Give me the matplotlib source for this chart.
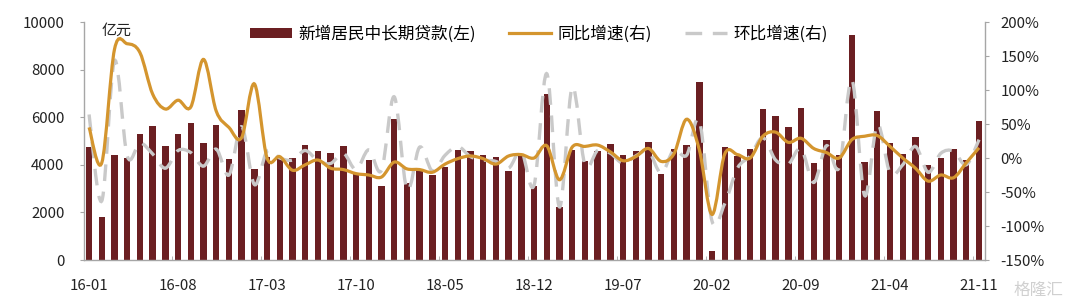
import matplotlib
matplotlib.use("Agg")
import matplotlib.pyplot as plt
import numpy as np
from matplotlib.path import Path
from matplotlib.patches import PathPatch, Patch
from matplotlib.lines import Line2D
from matplotlib.ticker import FuncFormatter

plt.rcParams['font.family'] = ['Noto Sans CJK SC', 'DejaVu Sans']

# ---------------- data ----------------
tick_labels = ["16-01", "16-08", "17-03", "17-10", "18-05", "18-12",
               "19-07", "20-02", "20-09", "21-04", "21-11"]

loans = [4750, 1800, 4400, 4280, 5300, 5640, 4780, 5300, 5760, 4900,
         5690, 4230, 6290, 3810, 4320, 4290, 4300, 4850, 4570, 4490,
         4800, 3660, 4190, 3120, 5920, 3250, 3790, 3560, 3920, 4640,
         4590, 4430, 4330, 3740, 4400, 3090, 6980, 2240, 4630, 4180,
         4600, 4880, 4430, 4560, 4950, 3610, 4670, 4840, 7500, 380,
         4740, 4390, 4680, 6350, 6070, 5580, 6370, 4070, 5060, 4420,
         9470, 4130, 6250, 4930, 4450, 5170, 3980, 4290, 4680, 4210,
         5850]

yoy = [45, -7, 160, 168, 155, 94, 72, 85, 75, 145,
       69, 45, 30, 109, 0, 2, -18, -10, -3, -15,
       -17, -23, -25, -28, -6, -16, -17, -21, -9, -1,
       3, -1, -9, 3, 5, 0, 18, -32, 16, 17,
       19, 9, -4, 2, 14, -5, 6, 57, 12, -83,
       6, 5, 0, 32, 38, 23, 29, 14, 8, 0,
       27, 32, 33, 17, 0, -15, -34, -25, -29, -7,
       15]

mom = [64, -63, 143, 3, 22, 6, -15, 11, 8, -12,
       13, -25, 46, -39, 10, 0, -3, 11, -4, -8,
       7, -17, 12, -18, 90, -46, 16, -19, 4, 17,
       2, -3, -5, -15, 10, -40, 124, -72, 104, -10,
       11, 7, -8, 3, 10, -22, 12, 4, 55, -93,
       -67, -15, 3, 30, -3, -9, 14, -36, 18, -14,
       115, -55, 49, -22, -10, 17, -21, 7, 10, -10,
       27]

bar_label = "新增居民中长期贷款(左)"
yoy_label = "同比增速(右)"
mom_label = "环比增速(右)"

# ---------------- style ----------------
BAR_C = "#6B1F22"
YOY_C = "#D4952E"
MOM_C = "#C9C9C9"
AX_C = "#A6A6A6"
FS = 10.8


def smooth_path(x, y, tension=1/6):
    """Catmull-Rom style smooth path expressed as cubic Bezier segments."""
    x = np.asarray(x, float)
    y = np.asarray(y, float)
    n = len(x)
    verts = [(x[0], y[0])]
    codes = [Path.MOVETO]
    for i in range(n - 1):
        p0 = np.array([x[max(i - 1, 0)], y[max(i - 1, 0)]])
        p1 = np.array([x[i], y[i]])
        p2 = np.array([x[i + 1], y[i + 1]])
        p3 = np.array([x[min(i + 2, n - 1)], y[min(i + 2, n - 1)]])
        c1 = p1 + (p2 - p0) * tension
        c2 = p2 - (p3 - p1) * tension
        verts += [tuple(c1), tuple(c2), tuple(p2)]
        codes += [Path.CURVE4] * 3
    return Path(verts, codes)


fig = plt.figure(figsize=(10.8, 3.01), dpi=100)
ax = fig.add_axes([84 / 1080, 41 / 301, (985 - 84) / 1080, (279 - 41) / 301])
ax2 = ax.twinx()

n = len(loans)
x = np.arange(n)

ax.bar(x, loans, width=0.5, color=BAR_C, zorder=2)
ax.set_xlim(-0.4, n - 1 + 0.47)
ax.set_ylim(0, 10000)
ax.set_yticks(np.arange(0, 10001, 2000))

ax2.set_ylim(-150, 200)
ax2.set_yticks(np.arange(-150, 201, 50))
ax2.yaxis.set_major_formatter(FuncFormatter(lambda v, p: f"{int(v)}%"))

p_mom = PathPatch(smooth_path(x, mom), facecolor="none", edgecolor=MOM_C,
                  lw=2.4, linestyle=(0, (5, 3.2)), transform=ax2.transData,
                  zorder=3, capstyle="butt")
p_yoy = PathPatch(smooth_path(x, yoy), facecolor="none", edgecolor=YOY_C,
                  lw=2.3, transform=ax2.transData, zorder=4)
ax2.add_patch(p_mom)
ax2.add_patch(p_yoy)

# ticks and spines
tick_pos = np.arange(0, n, 7)
ax.set_xticks(tick_pos)
ax.set_xticklabels(tick_labels)
ax.set_xticks(np.arange(6.5, n, 7), minor=True)
ax.tick_params(axis="x", which="major", length=0, pad=14, labelsize=FS)
ax.tick_params(axis="x", which="minor", length=3, direction="in", color=AX_C)
ax.tick_params(axis="y", length=3, color=AX_C, labelsize=FS, pad=11)
ax2.tick_params(axis="y", length=3, color=AX_C, labelsize=FS, pad=8)

for a in (ax, ax2):
    a.spines["top"].set_visible(False)
    for s in ("left", "right", "bottom"):
        a.spines[s].set_color(AX_C)
        a.spines[s].set_linewidth(1.0)
ax.spines["right"].set_visible(False)
ax2.spines["left"].set_visible(False)
ax2.spines["bottom"].set_visible(False)

for lab in ax.get_yticklabels() + ax2.get_yticklabels() + ax.get_xticklabels():
    lab.set_color("#222222")

ax.text(0.020, 0.962, "亿元", transform=ax.transAxes, fontsize=FS,
        ha="left", va="center", color="#222222")

handles = [Patch(facecolor=BAR_C, edgecolor="none"),
           Line2D([], [], color=YOY_C, lw=2.3),
           Line2D([], [], color=MOM_C, lw=2.4, linestyle=(0, (5, 3.2)))]
fig.legend(handles, [bar_label, yoy_label, mom_label], loc="center",
           bbox_to_anchor=(0.499, 1 - 34 / 301), ncol=3, frameon=False,
           fontsize=12, handlelength=2.5, handleheight=0.55,
           columnspacing=2.0, handletextpad=0.4)

fig.text(0.985, 0.035, "格隆汇", ha="right", va="center", fontsize=12,
         color="#D0D0D0")

fig.savefig("out.png", dpi=100)
